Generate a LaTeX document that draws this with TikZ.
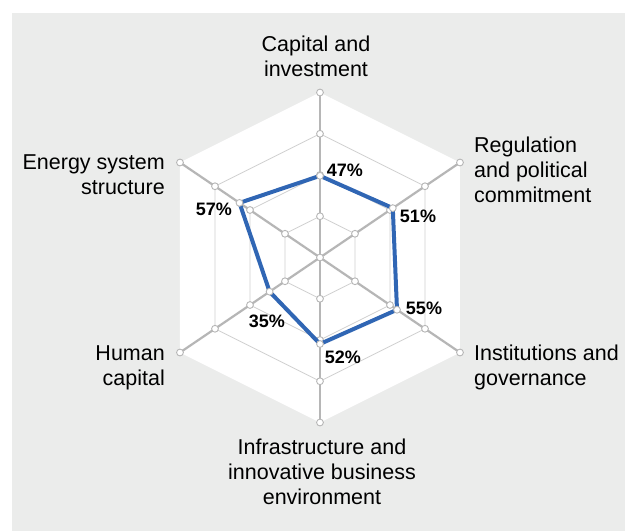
\documentclass[tikz,border=0pt]{standalone}
\usepackage{fontspec}
\setmainfont{Liberation Sans}
\usepackage{tikz}
\definecolor{panel}{RGB}{235, 236, 235}
\definecolor{spoke}{RGB}{182, 182, 182}
\definecolor{gridline}{RGB}{208, 208, 208}
\definecolor{score}{RGB}{48, 102, 180}

\begin{document}
\begin{tikzpicture}[x=1pt, y=1pt,
        axislabel/.style={font=\fontsize{21.5}{25}\selectfont, inner sep=0pt},
        value/.style={font=\fontsize{18}{20}\selectfont\bfseries, inner sep=0pt},
        marker/.style={fill=white, draw=spoke, line width=0.9pt}]

    \useasboundingbox (-320, 257.5) rectangle (305, -273.5);
    \fill[color=panel] (-308, 244.8) rectangle (305, -273.5);

    % axis ends
    \foreach \name/\x/\y in {cap/0/165, reg/140/95, ins/140/-95,
            inf/0/-165, hum/-140/-95, ene/-140/95} {
            \coordinate (\name) at (\x, \y);
        }
    \coordinate (c) at (0, 0);

    \fill[color=white] (cap) -- (reg) -- (ins) -- (inf) -- (hum) -- (ene) -- cycle;

    \foreach \f in {0.25, 0.5, 0.75} {
            \draw[color=gridline, line width=0.8pt, scale=\f]
            (0, 165) -- (140, 95) -- (140, -95) -- (0, -165)
            -- (-140, -95) -- (-140, 95) -- cycle;
        }

    \foreach \name in {cap, reg, ins, inf, hum, ene} {
            \draw[color=spoke, line width=2.2pt] (c) -- (\name);
        }

    \foreach \f in {0.25, 0.5, 0.75, 1} {
            \foreach \x/\y in {0/165, 140/95, 140/-95, 0/-165, -140/-95, -140/95} {
                    \draw[marker] (\f*\x, \f*\y) circle (3.4pt);
                }
        }
    \draw[marker] (c) circle (3.4pt);

    % scores
    \foreach \name/\x/\y/\f in {cap/0/165/0.495, reg/140/95/0.52, ins/140/-95/0.55,
            inf/0/-165/0.524, hum/-140/-95/0.36, ene/-140/95/0.575} {
            \coordinate (s\name) at (\f*\x, \f*\y);
        }
    \draw[color=score, line width=4pt, line join=round]
    (scap) -- (sreg) -- (sins) -- (sinf) -- (shum) -- (sene) -- cycle;
    \foreach \name in {cap, reg, ins, inf, hum, ene} {
            \draw[marker] (s\name) circle (3.4pt);
        }

    \node[value] (vcap) at (25, 87.5) {47\%};
    \node[value] (vreg) at (98, 41.5) {51\%};
    \node[value] (vins) at (104, -50.5) {55\%};
    \node[value] (vinf) at (23, -99.5) {52\%};
    \node[value] (vhum) at (-53, -63.5) {35\%};
    \node[value] (vene) at (-106, 48.5) {57\%};

    \node[axislabel, align=center] (lcap) at (-4, 201.5) {Capital and\\investment};
    \node[axislabel, align=left, anchor=west] (lreg) at (154, 87.5)
    {Regulation\\and political\\commitment};
    \node[axislabel, align=left, anchor=west] (lins) at (154, -110)
    {Institutions and\\governance};
    \node[axislabel, align=center] (linf) at (2, -214.5)
    {Infrastructure and\\innovative business\\environment};
    \node[axislabel, align=right, anchor=east] (lhum) at (-155, -110) {Human\\capital};
    \node[axislabel, align=right, anchor=east] (lene) at (-155, 83)
    {Energy system\\structure};

\end{tikzpicture}
\end{document}
